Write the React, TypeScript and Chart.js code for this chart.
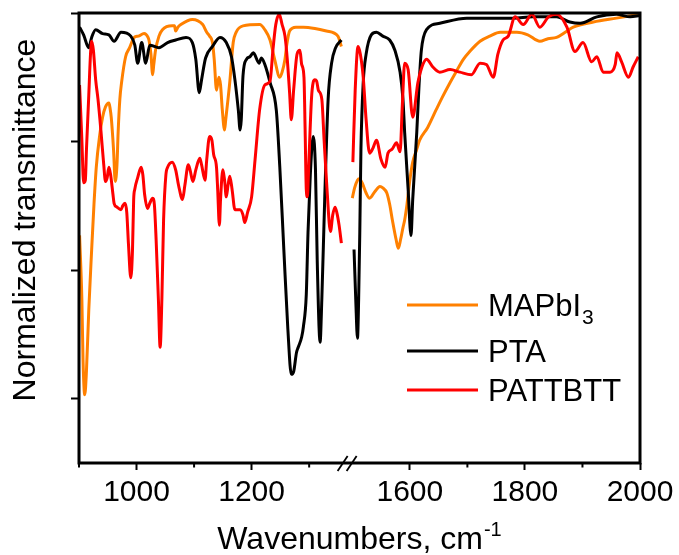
import React, { useEffect, useRef } from "react";
import { Chart, registerables } from "chart.js";

Chart.register(...registerables);

const FONT = 'Arial, "Liberation Sans", Helvetica, sans-serif';

// ---- axis break: wavenumbers from BREAK_TO upward are moved left by BREAK_SHIFT
const BREAK_TO = 1490;
const BREAK_SHIFT = 125;
const BREAK_MARK_AXIS = 1366;

// ---- tick labels
const majorTickWn = [1000, 1200, 1600, 1800, 2000];
const minorTickWn = [900, 1100, 1300, 1700, 1900];
const yTicks = [0.5, 1.5, 2.5, 3.5];

// ---- series names / colours
const seriesNames = ["MAPbI", "PTA", "PATTBTT"];
const seriesSubs = ["3", "", ""];
const seriesColors = ["#FF8000", "#000000", "#FF0000"];

// ---- MAPbI3 (orange)
const mapbiWn = [
  901, 905, 907, 910, 913, 917, 922, 926, 930, 936,
  941, 946, 952, 954, 956, 960, 963, 966, 968, 971,
  974, 981, 988, 996, 1003, 1013, 1020, 1022, 1025, 1028,
  1030, 1033, 1039, 1045, 1062, 1066, 1068, 1072, 1077, 1097,
  1115, 1122, 1127, 1132, 1135, 1139, 1143, 1146, 1149, 1153,
  1155, 1159, 1162, 1168, 1173, 1185, 1214, 1223, 1232, 1240,
  1249, 1253, 1258, 1261, 1266, 1277, 1290, 1310, 1330, 1350, 1356,
  1500, 1504, 1509, 1512, 1517, 1524, 1530, 1539, 1548, 1553,
  1560, 1565, 1570, 1576, 1580, 1584, 1588, 1591, 1595, 1600,
  1605, 1612, 1617, 1631, 1646, 1657, 1670, 1680, 1693, 1704,
  1722, 1739, 1757, 1786, 1805, 1826, 1840, 1855, 1870, 1884,
  1919, 1959, 2000,
];
const mapbiT = [
  1.77, 1.27, 0.80, 0.53, 0.72, 1.19, 1.66, 2.01, 2.30, 2.55,
  2.69, 2.77, 2.80, 2.76, 2.69, 2.44, 2.19, 2.32, 2.57, 2.83,
  2.96, 3.16, 3.23, 3.31, 3.32, 3.34, 3.31, 3.28, 3.18, 3.02,
  3.10, 3.21, 3.32, 3.37, 3.40, 3.40, 3.36, 3.39, 3.41, 3.45,
  3.41, 3.35, 3.32, 3.27, 3.14, 2.90, 3.00, 2.94, 2.75, 2.59,
  2.67, 2.83, 2.96, 3.27, 3.35, 3.40, 3.41, 3.37, 3.29, 3.14,
  3.00, 3.04, 3.14, 3.25, 3.36, 3.39, 3.39, 3.38, 3.36, 3.32, 3.24,
  2.06, 2.14, 2.20, 2.21, 2.18, 2.10, 2.06, 2.11, 2.15, 2.14,
  2.10, 2.01, 1.88, 1.74, 1.67, 1.74, 1.83, 1.89, 2.01, 2.20,
  2.34, 2.44, 2.51, 2.61, 2.75, 2.85, 2.96, 3.04, 3.14, 3.20,
  3.28, 3.32, 3.35, 3.35, 3.33, 3.28, 3.30, 3.31, 3.35, 3.39,
  3.43, 3.46, 3.49,
];

// ---- PTA (black)
const ptaWn = [
  901, 908, 917, 922, 929, 941, 952, 961, 973, 990,
  997, 1002, 1009, 1016, 1023, 1039, 1054, 1068, 1086, 1097,
  1103, 1109, 1113, 1120, 1132, 1145, 1156, 1165, 1171, 1177,
  1180, 1182, 1185, 1191, 1197, 1203, 1213, 1217, 1223, 1232,
  1243, 1249, 1256, 1263, 1269, 1273, 1278, 1281, 1287, 1290,
  1295, 1298, 1302, 1307, 1311, 1314, 1319, 1322, 1327, 1333,
  1339, 1346, 1356,
  1503, 1506, 1509, 1511, 1513, 1515, 1519, 1524, 1533, 1542,
  1553, 1565, 1574, 1583, 1588, 1591, 1597, 1602, 1605, 1612,
  1616, 1620, 1629, 1652, 1699, 1739, 1779, 1814, 1855, 1878,
  1896, 1925, 1959, 1983, 2000,
];
const ptaT = [
  3.39, 3.33, 3.23, 3.31, 3.37, 3.34, 3.33, 3.28, 3.35, 3.32,
  3.25, 3.11, 3.27, 3.11, 3.25, 3.23, 3.27, 3.29, 3.31, 3.27,
  3.14, 2.88, 2.98, 3.15, 3.24, 3.31, 3.27, 3.16, 2.98, 2.74,
  2.59, 2.67, 3.01, 3.14, 3.16, 3.19, 3.11, 3.15, 3.10, 2.96,
  2.74, 2.30, 1.66, 1.04, 0.69, 0.71, 0.86, 0.90, 0.98, 1.06,
  1.31, 1.79, 2.24, 2.54, 2.28, 1.58, 0.94, 1.27, 2.05, 2.83,
  3.11, 3.23, 3.29,
  1.66, 1.27, 0.97, 1.27, 1.79, 2.44, 2.96, 3.18, 3.33, 3.35,
  3.32, 3.29, 3.21, 3.04, 2.83, 2.57, 2.13, 1.77, 2.05, 2.57,
  2.94, 3.21, 3.37, 3.42, 3.46, 3.46, 3.46, 3.47, 3.47, 3.43,
  3.42, 3.47, 3.49, 3.47, 3.48,
];

// ---- PATTBTT (red)
const pattWn = [
  901, 905, 908, 911, 913, 917, 920, 922, 925, 929,
  933, 938, 943, 946, 949, 952, 955, 959, 961, 966,
  973, 976, 980, 983, 986, 990, 993, 995, 997, 1002,
  1008, 1011, 1014, 1019, 1023, 1028, 1031, 1034, 1038, 1041,
  1044, 1047, 1051, 1054, 1062, 1068, 1073, 1080, 1084, 1090,
  1093, 1098, 1103, 1110, 1113, 1119, 1122, 1127, 1131, 1134,
  1139, 1141, 1144, 1146, 1150, 1153, 1156, 1159, 1162, 1166,
  1171, 1180, 1185, 1188, 1193, 1200, 1206, 1214, 1223, 1232,
  1237, 1242, 1248, 1253, 1258, 1262, 1266, 1269, 1273, 1279,
  1284, 1287, 1291, 1293, 1295, 1297, 1299, 1304, 1307, 1310,
  1313, 1316, 1322, 1326, 1331, 1337, 1341, 1345, 1348, 1352, 1356,
  1501, 1505, 1510, 1514, 1519, 1524, 1530, 1536, 1542, 1550,
  1557, 1562, 1569, 1577, 1583, 1587, 1591, 1597, 1605, 1614,
  1621, 1629, 1640, 1652, 1670, 1687, 1707, 1722, 1733, 1745,
  1753, 1762, 1771, 1783, 1797, 1812, 1826, 1841, 1855, 1873,
  1887, 1901, 1916, 1925, 1936, 1948, 1957, 1960, 1968, 1980,
  1988, 1997,
];
const pattT = [
  2.94, 2.51, 2.18, 2.20, 2.44, 2.86, 3.18, 3.28, 3.21, 2.98,
  2.83, 2.59, 2.32, 2.19, 2.22, 2.30, 2.24, 2.09, 2.02, 1.99,
  1.97, 2.00, 2.02, 1.95, 1.70, 1.44, 1.66, 2.05, 2.13, 2.22,
  2.30, 2.24, 2.09, 1.98, 2.02, 2.06, 2.01, 1.74, 1.27, 0.90,
  1.27, 1.89, 2.24, 2.30, 2.34, 2.28, 2.16, 2.05, 2.16, 2.32,
  2.28, 2.19, 2.28, 2.37, 2.32, 2.20, 2.36, 2.54, 2.51, 2.40,
  2.30, 2.13, 1.85, 2.05, 2.28, 2.20, 2.07, 2.16, 2.23, 2.13,
  1.97, 1.97, 1.93, 1.87, 1.95, 2.07, 2.36, 2.75, 2.94, 2.97,
  3.21, 3.41, 3.49, 3.41, 3.32, 3.14, 2.88, 2.67, 2.90, 3.18,
  3.21, 3.10, 3.00, 2.59, 2.13, 2.07, 2.28, 2.83, 2.96, 2.98,
  2.97, 2.90, 2.83, 2.51, 2.13, 1.80, 1.93, 1.99, 1.95, 1.85, 1.71,
  2.34, 2.90, 3.24, 3.18, 3.00, 2.67, 2.41, 2.45, 2.51, 2.36,
  2.30, 2.41, 2.44, 2.49, 2.42, 2.79, 3.11, 3.06, 2.69, 2.96,
  3.08, 3.14, 3.08, 3.04, 3.06, 3.04, 3.02, 3.11, 3.10, 3.00,
  3.18, 3.29, 3.32, 3.47, 3.41, 3.49, 3.39, 3.47, 3.49, 3.39,
  3.20, 3.27, 3.12, 3.16, 3.04, 3.04, 3.10, 3.19, 3.12, 3.00,
  3.08, 3.16,
];

const toAxis = (w: number) => (w >= BREAK_TO ? w - BREAK_SHIFT : w);

function buildSeries(wn: number[], t: number[]) {
  const pts: { x: number; y: number | null }[] = [];
  for (let i = 0; i < wn.length; i++) {
    if (i > 0 && wn[i - 1] < BREAK_TO && wn[i] >= BREAK_TO) {
      pts.push({ x: (toAxis(wn[i - 1]) + toAxis(wn[i])) / 2, y: null });
    }
    pts.push({ x: toAxis(wn[i]), y: t[i] });
  }
  return pts;
}

const decor = {
  id: "decor",
  afterDraw(chart: any) {
    const { ctx, chartArea: a, scales } = chart;
    const xs = scales.x;
    ctx.save();
    ctx.strokeStyle = "#000";
    ctx.fillStyle = "#000";

    // minor ticks
    ctx.lineWidth = 2;
    minorTickWn.forEach((w) => {
      const px = xs.getPixelForValue(toAxis(w));
      ctx.beginPath();
      ctx.moveTo(px, a.bottom);
      ctx.lineTo(px, a.bottom + 4.5);
      ctx.stroke();
    });

    // frame
    ctx.lineWidth = 3;
    ctx.strokeRect(a.left, a.top, a.right - a.left, a.bottom - a.top);

    // axis break marks
    const bx = xs.getPixelForValue(BREAK_MARK_AXIS);
    ctx.lineWidth = 1.8;
    [-4.5, 4.5].forEach((off) => {
      ctx.beginPath();
      ctx.moveTo(bx + off - 5, a.bottom + 8);
      ctx.lineTo(bx + off + 5, a.bottom - 7);
      ctx.stroke();
    });

    // legend
    const legY = [305, 351, 390];
    seriesNames.forEach((name, i) => {
      ctx.strokeStyle = seriesColors[i];
      ctx.lineWidth = 3;
      ctx.beginPath();
      ctx.moveTo(407, legY[i]);
      ctx.lineTo(478, legY[i]);
      ctx.stroke();
      ctx.fillStyle = "#000";
      ctx.font = `31px ${FONT}`;
      ctx.textAlign = "left";
      ctx.textBaseline = "alphabetic";
      const base = legY[i] + 11;
      ctx.fillText(name, 488, base);
      if (seriesSubs[i]) {
        const w = ctx.measureText(name).width;
        ctx.font = `21px ${FONT}`;
        ctx.fillText(seriesSubs[i], 488 + w + 1, base + 8);
      }
    });

    // y title
    ctx.save();
    ctx.translate(26, 220);
    ctx.rotate(-Math.PI / 2);
    ctx.font = `32px ${FONT}`;
    ctx.textAlign = "center";
    ctx.textBaseline = "middle";
    ctx.fillStyle = "#000";
    ctx.fillText("Normalized transmittance", 0, 0);
    ctx.restore();

    // x title with superscript
    ctx.font = `32px ${FONT}`;
    const main = "Wavenumbers, cm";
    const mw = ctx.measureText(main).width;
    ctx.font = `20px ${FONT}`;
    const sup = "-1";
    const sw = ctx.measureText(sup).width;
    const cx = (a.left + a.right) / 2;
    const start = cx - (mw + sw + 1) / 2;
    ctx.textAlign = "left";
    ctx.textBaseline = "alphabetic";
    ctx.font = `32px ${FONT}`;
    ctx.fillText(main, start, 549);
    ctx.font = `20px ${FONT}`;
    ctx.fillText(sup, start + mw + 1, 536);

    ctx.restore();
  },
};

export default function App() {
  const ref = useRef<HTMLCanvasElement>(null);
  useEffect(() => {
    const canvas = ref.current;
    if (!canvas) return;
    const series = [
      buildSeries(mapbiWn, mapbiT),
      buildSeries(ptaWn, ptaT),
      buildSeries(pattWn, pattT),
    ];
    const chart = new Chart(canvas, {
      type: "line",
      data: {
        datasets: series.map((d, i) => ({
          label: seriesNames[i] + seriesSubs[i],
          data: d,
          borderColor: seriesColors[i],
          backgroundColor: seriesColors[i],
          borderWidth: 3,
          pointRadius: 0,
          fill: false,
          spanGaps: false,
          cubicInterpolationMode: "monotone",
          order: 3 - i,
        })),
      },
      options: {
        animation: false,
        responsive: false,
        devicePixelRatio: 1,
        layout: { padding: { left: 0, right: 39, top: 13, bottom: 0 } },
        plugins: { legend: { display: false }, tooltip: { enabled: false } },
        scales: {
          x: {
            type: "linear",
            position: "bottom",
            min: 900,
            max: toAxis(2000),
            afterBuildTicks: (s: any) => {
              s.ticks = majorTickWn.map((w) => ({ value: toAxis(w) }));
            },
            afterFit: (s: any) => {
              s.height = 92;
            },
            ticks: {
              autoSkip: false,
              maxRotation: 0,
              padding: 5,
              color: "#000",
              font: { family: FONT, size: 30 },
              callback: (v: any) => {
                const w = majorTickWn.find((m) => toAxis(m) === Number(v));
                return w === undefined ? "" : String(w);
              },
            },
            grid: {
              drawOnChartArea: false,
              drawTicks: true,
              tickLength: 7,
              tickWidth: 2,
              color: "#000",
            },
            border: { display: false },
          },
          y: {
            type: "linear",
            min: 0,
            max: 3.5,
            afterBuildTicks: (s: any) => {
              s.ticks = yTicks.map((v) => ({ value: v }));
            },
            afterFit: (s: any) => {
              s.width = 79;
            },
            ticks: { display: false },
            grid: {
              drawOnChartArea: false,
              drawTicks: true,
              tickLength: 8,
              tickWidth: 2,
              color: "#000",
            },
            border: { display: false },
          },
        },
      },
      plugins: [decor],
    });
    return () => chart.destroy();
  }, []);
  return (
    <div
      style={{
        position: "fixed",
        left: 0,
        top: 0,
        width: 679,
        height: 555,
        background: "#fff",
      }}
    >
      <canvas
        ref={ref}
        width={679}
        height={555}
        style={{ display: "block", width: 679, height: 555 }}
      />
    </div>
  );
}
